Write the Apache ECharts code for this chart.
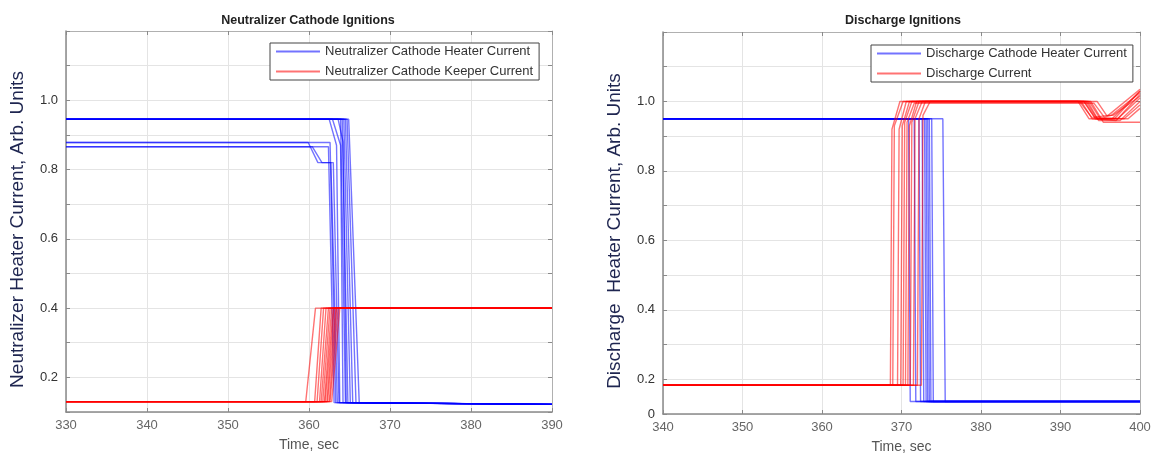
<!DOCTYPE html>
<html><head><meta charset="utf-8">
<script src="https://cdn.jsdelivr.net/npm/echarts@6/dist/echarts.min.js"></script>
<style>html,body{margin:0;padding:0;background:#fff}#c{width:1158px;height:462px}</style>
</head><body><div id="c"></div>
<script>
// ---------- data ----------
const neutTitle = 'Neutralizer Cathode Ignitions';
const dischTitle = 'Discharge Ignitions';
const neutHeaterName = 'Neutralizer Cathode Heater Current';
const neutKeeperName = 'Neutralizer Cathode Keeper Current';
const dischHeaterName = 'Discharge Cathode Heater Current';
const dischCurrentName = 'Discharge Current';
const neutYName = 'Neutralizer Heater Current, Arb. Units';
const dischYName = 'Discharge  Heater Current, Arb. Units';
const xName = 'Time, sec';

// y tick labels for tick values 0.1, 0.2, ... 1.2
const neutYTickLabels  = ['', '0.2', '', '0.4', '', '0.6', '', '0.8', '', '1.0', '', ''];
const dischYTickLabels = ['0', '0.2', '', '0.4', '', '0.6', '', '0.8', '', '1.0', '', ''];

const neutHeaterTraces = [
  [[330,0.945],[364.9,0.945],[366.2,0.127],[390,0.122]],
  [[330,0.945],[364.7,0.945],[365.8,0.127],[390,0.122]],
  [[330,0.945],[364.5,0.945],[365.4,0.127],[390,0.122]],
  [[330,0.945],[364.3,0.945],[365.1,0.127],[390,0.122]],
  [[330,0.945],[364.1,0.945],[364.8,0.127],[390,0.122]],
  [[330,0.945],[363.9,0.945],[364.5,0.127],[390,0.122]],
  [[330,0.945],[363.6,0.945],[364.2,0.88],[364.6,0.127],[390,0.122]],
  [[330,0.945],[362.9,0.945],[363.9,0.87],[364.2,0.127],[390,0.122]],
  [[330,0.945],[362.5,0.945],[363.4,0.87],[363.8,0.127],[390,0.122]],
  [[330,0.878],[362.6,0.878],[363.3,0.127],[390,0.122]],
  [[330,0.866],[362.4,0.866],[363.1,0.127],[390,0.122]],
  [[330,0.878],[359.9,0.878],[361.1,0.82],[362.7,0.82],[363.5,0.127],[390,0.122]],
  [[330,0.866],[360.4,0.866],[361.6,0.82],[363.0,0.82],[363.7,0.127],[390,0.122]]
];
const neutKeeperTraces = [
  [[330,0.13],[359.6,0.13],[360.8,0.4],[390,0.4]],
  [[330,0.13],[360.7,0.13],[361.5,0.4],[390,0.4]],
  [[330,0.13],[361.0,0.13],[361.8,0.4],[390,0.4]],
  [[330,0.13],[361.3,0.13],[362.1,0.4],[390,0.4]],
  [[330,0.13],[361.5,0.13],[362.4,0.4],[390,0.4]],
  [[330,0.13],[361.7,0.13],[362.6,0.4],[390,0.4]],
  [[330,0.13],[361.9,0.13],[362.8,0.4],[390,0.4]],
  [[330,0.13],[362.0,0.13],[363.0,0.4],[390,0.4]],
  [[330,0.13],[362.2,0.13],[363.1,0.4],[390,0.4]],
  [[330,0.13],[362.3,0.13],[363.3,0.4],[390,0.4]],
  [[330,0.13],[362.5,0.13],[363.4,0.4],[390,0.4]],
  [[330,0.13],[362.6,0.13],[363.6,0.4],[390,0.4]],
  [[330,0.13],[362.8,0.13],[363.8,0.4],[390,0.4]]
];
const dischHeaterTraces = [
  [[340,0.95],[370.9,0.95],[371.1,0.136],[400,0.136]],
  [[340,0.95],[371.6,0.95],[371.8,0.136],[400,0.136]],
  [[340,0.95],[372.2,0.95],[372.4,0.136],[400,0.136]],
  [[340,0.95],[372.6,0.95],[372.8,0.136],[400,0.136]],
  [[340,0.95],[372.9,0.95],[373.1,0.136],[400,0.136]],
  [[340,0.95],[373.1,0.95],[373.3,0.136],[400,0.136]],
  [[340,0.95],[373.3,0.95],[373.5,0.136],[400,0.136]],
  [[340,0.95],[373.5,0.95],[373.7,0.136],[400,0.136]],
  [[340,0.95],[373.8,0.95],[374.0,0.136],[400,0.136]],
  [[340,0.95],[375.2,0.95],[375.5,0.136],[400,0.136]]
];
const dischCurrentTraces = [
  [[340,0.183],[368.6,0.183],[368.8,0.92],[369.8,1.0],[392.2,1.0],[393.6,0.95],[396.5,0.95],[400,1.03]],
  [[340,0.183],[368.9,0.183],[369.1,0.93],[370.2,1.0],[392.6,1.0],[394.0,0.95],[397.0,0.945],[400,1.02]],
  [[340,0.183],[369.5,0.183],[369.7,0.92],[370.6,1.0],[393.0,1.0],[394.3,0.955],[396.0,0.96],[400,1.035]],
  [[340,0.183],[369.9,0.183],[370.1,0.93],[371.0,1.0],[393.4,1.0],[394.8,0.945],[397.5,0.945],[400,1.0]],
  [[340,0.183],[370.2,0.183],[370.4,0.94],[371.3,1.0],[393.8,1.0],[395.4,0.94],[400,0.94]],
  [[340,0.183],[370.5,0.183],[370.7,0.94],[371.6,0.995],[394.2,0.995],[395.5,0.955],[396.4,0.96],[400,1.025]],
  [[340,0.183],[370.8,0.183],[371.0,0.93],[371.9,1.0],[392.4,1.0],[393.9,0.955],[398.0,0.95],[400,0.99]],
  [[340,0.183],[371.1,0.183],[371.3,0.94],[372.2,1.0],[394.6,1.0],[395.8,0.96],[396.6,0.96],[400,1.015]],
  [[340,0.183],[371.5,0.183],[371.7,0.95],[372.6,1.0],[393.2,1.0],[394.6,0.95],[397.2,0.95],[400,1.01]],
  [[340,0.183],[372.0,0.183],[372.2,0.95],[373.0,1.0],[392.9,1.0],[394.4,0.95],[398.5,0.95],[400,0.98]],
  [[340,0.183],[372.5,0.183],[372.7,0.96],[373.6,1.0],[393.6,1.0],[395.0,0.95],[396.8,0.95],[400,1.03]]
];

// ---------- chart ----------
const FONT = 'Liberation Sans, Arial, sans-serif';
const BLUE = 'rgba(0,0,255,0.55)';
const RED = 'rgba(255,0,0,0.55)';
const gridColor = '#e4e4e4';
const frameColor = '#8a8a8a';

function mkSeries(traces, name, color, xi) {
  return traces.map(tr => ({
    type: 'line', name: name, xAxisIndex: xi, yAxisIndex: xi,
    data: tr, symbol: 'none', showSymbol: false, animation: false,
    lineStyle: { color: color, width: 1.4 }, itemStyle: { color: color },
    emphasis: { disabled: true }, z: 3
  }));
}
function yLab(labels) {
  return v => { const i = Math.round(v * 10) - 1; return labels[i] !== undefined ? labels[i] : ''; };
}
function mainX(gi, min, max) {
  return {
    type: 'value', gridIndex: gi, min: min, max: max, interval: 10, position: 'bottom',
    name: xName, nameLocation: 'middle', nameGap: 26,
    nameTextStyle: { fontFamily: FONT, fontSize: 14, color: '#555' },
    axisLine: { show: true, lineStyle: { color: frameColor, width: 1.5 } },
    axisTick: { show: true, inside: true, length: 4, lineStyle: { color: frameColor } },
    axisLabel: { fontFamily: FONT, fontSize: 13, color: '#666', margin: 7 },
    splitLine: { show: true, lineStyle: { color: gridColor, width: 1 } }
  };
}
function topX(gi, min, max) {
  return {
    type: 'value', gridIndex: gi, min: min, max: max, interval: 10, position: 'top',
    axisLine: { show: true, lineStyle: { color: '#b0b0b0', width: 1 } },
    axisTick: { show: true, inside: true, length: 4, lineStyle: { color: frameColor } },
    axisLabel: { show: false }, splitLine: { show: false }
  };
}
function mainY(gi, labels, name) {
  return {
    type: 'value', gridIndex: gi, min: 0.1, max: 1.2, interval: 0.1, position: 'left',
    name: name, nameLocation: 'middle', nameGap: 39, nameRotate: 90,
    nameTextStyle: { fontFamily: FONT, fontSize: 19, color: '#1e2550', padding: [0, 16, 0, 0] },
    axisLine: { show: true, lineStyle: { color: frameColor, width: 1.5 } },
    axisTick: { show: true, inside: true, length: 4, lineStyle: { color: frameColor } },
    axisLabel: { fontFamily: FONT, fontSize: 13, color: '#333', margin: 8, formatter: yLab(labels) },
    splitLine: { show: true, lineStyle: { color: gridColor, width: 1 } }
  };
}
function rightY(gi) {
  return {
    type: 'value', gridIndex: gi, min: 0.1, max: 1.2, interval: 0.1, position: 'right',
    axisLine: { show: true, lineStyle: { color: '#b0b0b0', width: 1 } },
    axisTick: { show: true, inside: true, length: 4, lineStyle: { color: frameColor } },
    axisLabel: { show: false }, splitLine: { show: false }
  };
}
function mkLegend(left, top, names) {
  return {
    data: names.map(n => ({ name: n, icon: 'rect' })), orient: 'vertical', left: left, top: top,
    backgroundColor: '#fff', borderColor: '#444', borderWidth: 1,
    padding: [1, 6, 1, 6], itemGap: 5, itemWidth: 44, itemHeight: 2,
    textStyle: { fontFamily: FONT, fontSize: 13, color: '#333', lineHeight: 15 },
    selectedMode: false
  };
}

const chart = echarts.init(document.getElementById('c'), null, { renderer: 'canvas' });
chart.setOption({
  backgroundColor: '#fff',
  animation: false,
  title: [
    { text: neutTitle, left: 303, top: 9, textAlign: 'center',
      textStyle: { fontFamily: FONT, fontSize: 12.5, fontWeight: 'bold', color: '#222' } },
    { text: dischTitle, left: 898, top: 9, textAlign: 'center',
      textStyle: { fontFamily: FONT, fontSize: 12.5, fontWeight: 'bold', color: '#222' } }
  ],
  grid: [
    { left: 66, top: 31, width: 486, height: 381 },
    { left: 663, top: 32, width: 477, height: 382 }
  ],
  xAxis: [mainX(0, 330, 390), topX(0, 330, 390), mainX(1, 340, 400), topX(1, 340, 400)],
  yAxis: [mainY(0, neutYTickLabels, neutYName), rightY(0), mainY(1, dischYTickLabels, dischYName), rightY(1)],
  legend: [
    mkLegend(270, 43, [neutHeaterName, neutKeeperName]),
    mkLegend(871, 45, [dischHeaterName, dischCurrentName])
  ],
  series: [].concat(
    mkSeries(neutHeaterTraces, neutHeaterName, BLUE, 0),
    mkSeries(neutKeeperTraces, neutKeeperName, RED, 0),
    mkSeries(dischHeaterTraces, dischHeaterName, BLUE, 2),
    mkSeries(dischCurrentTraces, dischCurrentName, RED, 2)
  )
});
</script>
</body></html>
